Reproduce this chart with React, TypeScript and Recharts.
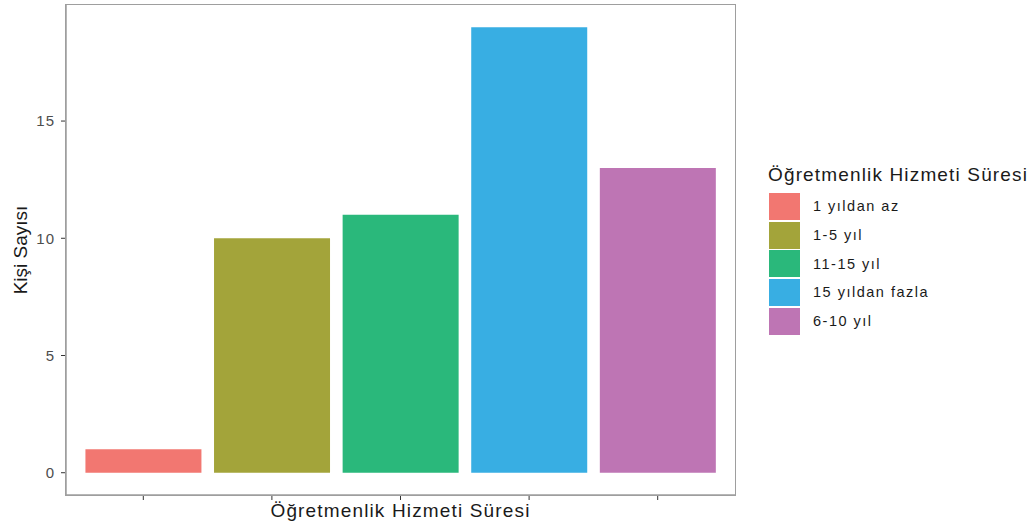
// Öğretmenlik hizmeti süresine göre kişi sayısı — ggplot-style bar chart

import { BarChart, Bar, Cell, XAxis, YAxis } from 'recharts'

const categories = ['1 yıldan az', '1-5 yıl', '11-15 yıl', '15 yıldan fazla', '6-10 yıl']
const counts = [1, 10, 11, 19, 13]
const colors = ['#F27771', '#A3A43A', '#2AB87B', '#38AEE3', '#BE75B4']
const yTicks = [0, 5, 10, 15]

const TITLE = 'Öğretmenlik Hizmeti Süresi'
const FONT = '"Liberation Sans", Arial, sans-serif'
const BORDER = '#9E9E9E'

// plot-area geometry (matches the chart margins below)
const M = { top: 5, right: 299, bottom: 0, left: 0 }
const W = 1034, H = 525, Y_W = 66, X_H = 30

const data = categories.map((c, i) => ({ cat: c, n: counts[i] }))

function YTitle(props: any) {
  const vb = props.viewBox || {}
  const x = vb.x + 20
  const y = vb.y + vb.height / 2
  return (
    <text x={x} y={y} transform={`rotate(-90 ${x} ${y})`} textAnchor="middle"
          dominantBaseline="central" fontSize={19} fill="#1A1A1A" fontFamily={FONT}>
      Kişi Sayısı
    </text>
  )
}

function LegendBox() {
  return (
    <div style={{ position: 'absolute', left: 768, top: 163, fontFamily: FONT, color: '#1A1A1A' }}>
      <div style={{ fontSize: 19, letterSpacing: 1.15, lineHeight: '24px', whiteSpace: 'nowrap' }}>{TITLE}</div>
      <div style={{ marginTop: 5 }}>
        {categories.map((c, i) => (
          <div key={c} style={{ display: 'flex', alignItems: 'center', height: 28.7 }}>
            <div style={{ width: 31, height: 27, background: colors[i], marginLeft: 1 }} />
            <span style={{ marginLeft: 13, fontSize: 14.5, letterSpacing: 1.5, whiteSpace: 'nowrap' }}>{c}</span>
          </div>
        ))}
      </div>
    </div>
  )
}

export default function App() {
  return (
    <div style={{ position: 'fixed', left: 0, top: 0, width: W, height: H, background: '#FFFFFF' }}>
      <BarChart width={W} height={H} data={data} barCategoryGap="5%" margin={M}>
        <XAxis dataKey="cat" height={X_H} padding={{ left: 13, right: 13 }}
               tickFormatter={() => ''} tickSize={5}
               tickLine={{ stroke: '#333333' }} axisLine={{ stroke: BORDER, strokeWidth: 1.5 }}
               label={{ value: TITLE, position: 'insideBottom', offset: 8, fontSize: 19,
                        fill: '#1A1A1A', fontFamily: FONT, letterSpacing: 1.15 }} />
        <YAxis width={Y_W} domain={[-0.95, 19.95]} ticks={yTicks} allowDataOverflow
               tickSize={5} tickMargin={6}
               tick={{ fill: '#4D4D4D', fontSize: 15, fontFamily: FONT, letterSpacing: 1 }}
               tickLine={{ stroke: '#333333' }} axisLine={{ stroke: BORDER, strokeWidth: 1.5 }}
               label={(p: any) => <YTitle {...p} />} />
        <Bar dataKey="n" isAnimationActive={false}>
          {data.map((d, i) => <Cell key={d.cat} fill={colors[i]} />)}
        </Bar>
      </BarChart>
      {/* panel border (top/right sides) */}
      <div style={{
        position: 'absolute', boxSizing: 'border-box', pointerEvents: 'none',
        left: M.left + Y_W - 0.75, top: M.top - 0.75,
        width: W - M.left - M.right - Y_W + 1.5, height: H - M.top - M.bottom - X_H + 1.5,
        border: `1.5px solid ${BORDER}`,
      }} />
      <LegendBox />
    </div>
  )
}
